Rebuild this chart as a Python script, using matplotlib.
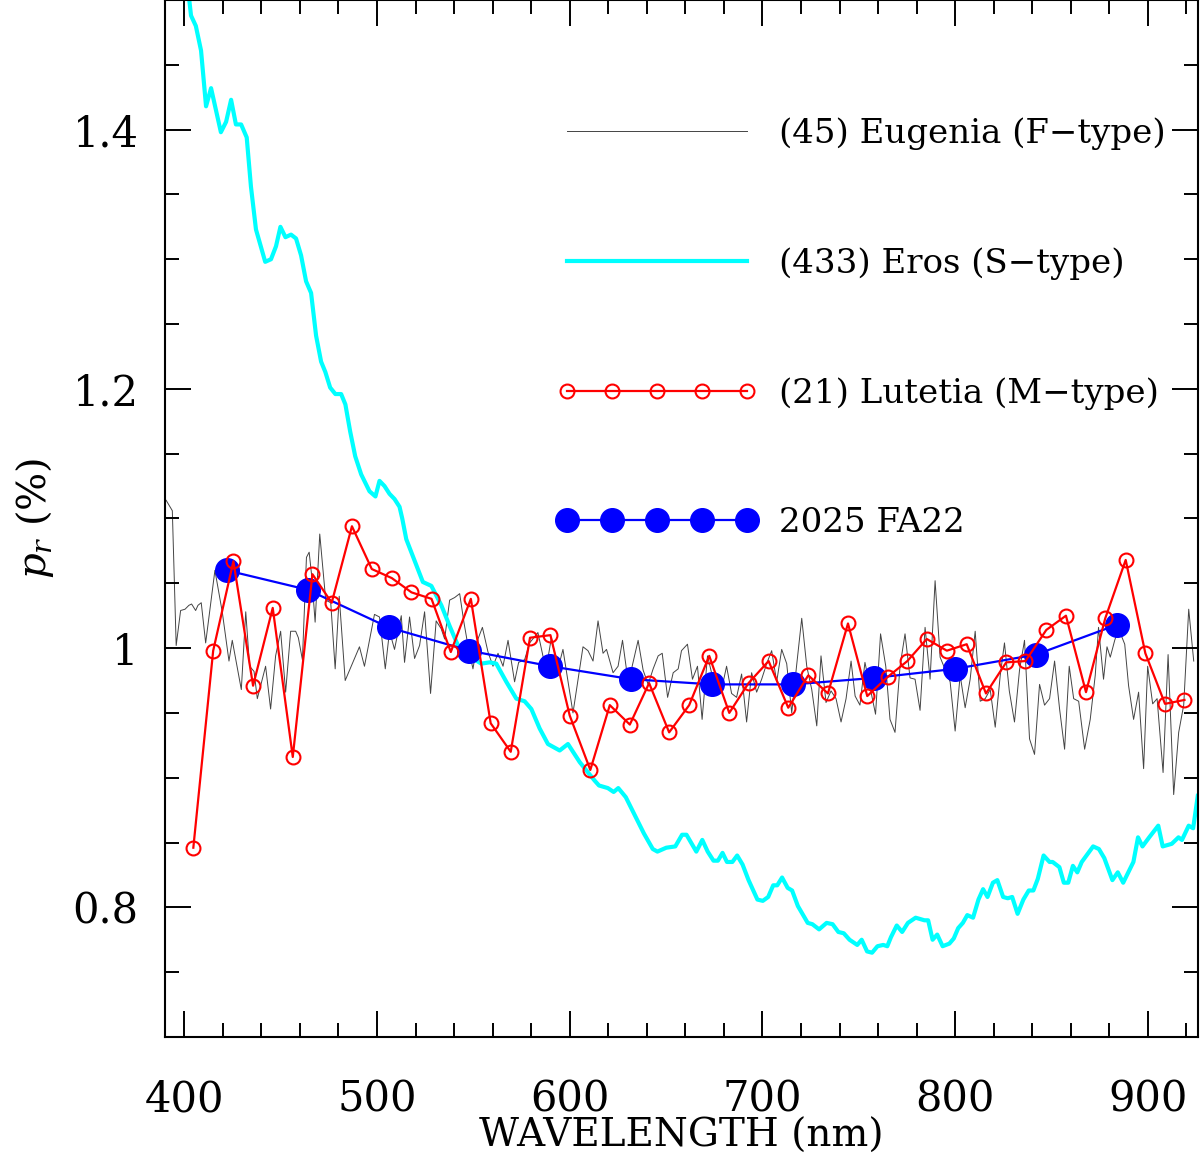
import numpy as np
import matplotlib
matplotlib.use("Agg")
import matplotlib.pyplot as plt
from matplotlib.ticker import MultipleLocator, FormatStrFormatter

plt.rcParams['font.family'] = ['DejaVu Serif']
plt.rcParams['mathtext.fontset'] = 'dejavuserif'

# --> (45) Eugenia, F-type
eug_wl = [390.6, 393.8, 395.8, 398.1, 400.4, 402.4, 403.8, 405.9, 407.1, 408.8,
          411.1, 415.9, 419.7, 423.2, 424.9, 429.6, 431.9, 433.9, 436.2, 437.9,
          442.2, 444.8, 447.4, 450.0, 452.6, 455.2, 457.8, 459.2, 461.3, 463.4,
          464.8, 466.1, 467.9, 470.3, 473.4, 476.0, 478.3, 480.4, 483.5, 490.9,
          493.5, 498.7, 501.3, 504.3, 506.5, 509.1, 512.6, 514.3, 516.9, 519.5,
          522.1, 524.7, 527.8, 530.7, 533.3, 535.1, 537.7, 540.3, 542.9, 545.1,
          547.2, 549.8, 552.4, 554.7, 557.6, 560.2, 562.8, 565.4, 568.0, 571.4,
          573.5, 576.6, 579.2, 583.5, 586.1, 587.9, 590.5, 593.9, 596.5, 601.7,
          606.9, 609.5, 612.1, 614.7, 617.3, 619.1, 622.5, 625.1, 627.4, 629.5,
          632.1, 635.5, 638.1, 640.7, 643.3, 645.9, 648.0, 650.8, 653.7, 656.3,
          658.0, 661.1, 663.7, 666.3, 668.7, 671.5, 676.2, 678.8, 681.4, 684.0,
          686.6, 689.2, 691.8, 694.4, 697.0, 699.6, 702.2, 704.8, 707.4, 710.0,
          712.6, 715.2, 717.7, 720.4, 723.0, 725.6, 728.2, 730.4, 733.0, 735.6,
          738.2, 740.8, 743.4, 746.0, 748.1, 750.6, 753.2, 756.2, 758.7, 761.3,
          764.0, 766.2, 768.8, 771.4, 774.0, 776.6, 779.2, 781.8, 784.4, 787.0,
          789.6, 792.2, 794.4, 797.4, 800.0, 802.6, 805.2, 807.8, 810.4, 813.0,
          815.6, 818.2, 820.8, 823.4, 825.6, 828.1, 830.8, 833.4, 836.0, 838.6,
          841.2, 843.8, 846.4, 849.0, 851.6, 854.2, 856.8, 859.2, 861.5, 864.1,
          867.2, 870.1, 872.7, 874.4, 877.0, 878.8, 880.5, 882.8, 884.8, 888.0,
          890.0, 892.6, 895.2, 897.8, 899.9, 902.5, 904.8, 907.9, 910.5, 913.4,
          916.0, 918.6, 921.2, 923.8]
eug_pr = [1.114, 1.106, 1.002, 1.029, 1.030, 1.033, 1.034, 1.029, 1.033, 1.035,
          1.004, 1.060, 1.028, 0.990, 1.006, 0.968, 1.028, 0.986, 0.982, 0.961,
          0.986, 0.953, 0.994, 1.013, 0.966, 1.013, 1.013, 1.008, 0.991, 1.070,
          1.074, 1.056, 1.020, 1.088, 1.037, 1.035, 0.984, 1.040, 0.975, 1.001,
          0.986, 1.026, 1.024, 0.984, 1.013, 0.999, 1.025, 0.989, 1.024, 0.992,
          1.002, 1.028, 0.965, 1.021, 1.015, 1.007, 1.037, 1.039, 1.042, 1.020,
          1.002, 0.984, 1.007, 1.016, 0.997, 0.986, 0.996, 0.986, 1.006, 0.974,
          0.989, 0.991, 1.004, 1.012, 0.994, 0.985, 1.008, 0.984, 0.999, 0.950,
          1.001, 0.998, 0.990, 1.021, 0.996, 0.999, 0.981, 0.986, 1.006, 0.983,
          0.984, 1.006, 0.983, 0.972, 0.984, 0.994, 0.996, 0.962, 0.981, 0.984,
          0.998, 1.003, 0.976, 0.986, 0.945, 0.994, 0.965, 0.968, 0.986, 0.965,
          0.962, 0.980, 0.943, 0.981, 0.966, 0.976, 0.988, 0.998, 0.974, 0.999,
          0.988, 0.950, 0.986, 1.023, 0.986, 0.968, 0.940, 0.994, 0.958, 0.967,
          0.961, 0.943, 0.961, 0.990, 0.963, 0.956, 0.989, 0.967, 0.949, 1.011,
          0.986, 0.945, 0.935, 0.986, 1.011, 0.977, 0.976, 0.952, 1.016, 0.976,
          1.052, 0.993, 0.985, 0.974, 0.936, 0.979, 0.954, 0.976, 1.013, 0.959,
          0.961, 0.968, 0.939, 0.979, 1.004, 0.967, 0.943, 0.983, 1.006, 0.930,
          0.918, 0.972, 0.956, 0.961, 0.990, 0.953, 0.922, 0.986, 0.961, 0.959,
          0.922, 0.945, 0.979, 1.016, 0.976, 1.001, 0.993, 1.006, 1.015, 1.003,
          0.971, 0.945, 0.966, 0.907, 0.986, 0.957, 0.961, 0.904, 0.995, 0.887,
          0.935, 0.956, 1.030, 0.990]

# --> (433) Eros, S-type
eros_wl = [400.0, 402.6, 403.5, 406.0, 408.7, 411.3, 413.9, 419.0, 421.7, 424.3,
           426.8, 429.5, 432.4, 434.6, 437.2, 442.0, 445.0, 447.6, 449.9, 452.5,
           455.4, 458.0, 460.6, 463.2, 465.8, 468.4, 471.0, 473.2, 475.7, 478.4,
           481.4, 483.6, 486.1, 488.7, 491.8, 496.1, 499.2, 501.3, 503.9, 506.5,
           509.1, 511.7, 513.1, 515.2, 523.8, 528.2, 533.4, 537.7, 542.9, 549.8,
           554.1, 558.4, 561.9, 567.1, 572.3, 576.6, 580.1, 584.4, 588.7, 594.8,
           599.1, 605.2, 612.8, 615.2, 619.8, 622.8, 625.2, 629.1, 633.8, 638.5,
           643.1, 645.5, 650.1, 654.8, 658.3, 660.6, 665.7, 668.8, 671.6, 674.6,
           676.9, 679.3, 681.6, 684.4, 686.9, 689.7, 692.8, 697.4, 700.2, 703.0,
           705.6, 707.7, 710.2, 713.1, 715.4, 718.4, 723.5, 725.9, 729.4, 733.3,
           736.4, 739.4, 742.2, 745.2, 749.2, 751.5, 754.3, 756.9, 759.7, 762.7,
           764.8, 766.7, 769.7, 772.5, 775.5, 779.5, 784.1, 786.0, 788.3, 790.7,
           793.5, 797.0, 799.3, 801.6, 804.0, 806.3, 809.3, 812.1, 814.5, 816.8,
           819.6, 821.9, 824.9, 827.3, 829.6, 832.4, 835.4, 838.2, 840.6, 842.9,
           845.9, 849.0, 850.6, 854.1, 856.4, 858.7, 861.1, 863.4, 865.7, 871.6,
           874.6, 877.4, 881.6, 884.4, 887.2, 892.5, 894.9, 897.2, 900.7, 905.4,
           907.7, 912.4, 915.9, 917.7, 921.2, 923.5, 925.9]
eros_pr = [1.530, 1.500, 1.488, 1.480, 1.461, 1.418, 1.432, 1.398, 1.406, 1.423,
           1.404, 1.404, 1.394, 1.356, 1.323, 1.298, 1.300, 1.310, 1.325, 1.317,
           1.319, 1.316, 1.303, 1.283, 1.274, 1.241, 1.221, 1.213, 1.201, 1.196,
           1.196, 1.188, 1.167, 1.148, 1.134, 1.121, 1.117, 1.129, 1.125, 1.119,
           1.115, 1.109, 1.100, 1.084, 1.051, 1.048, 1.033, 1.017, 0.999, 0.992,
           0.988, 0.989, 0.988, 0.974, 0.961, 0.959, 0.953, 0.938, 0.926, 0.921,
           0.926, 0.912, 0.898, 0.894, 0.892, 0.889, 0.892, 0.885, 0.871, 0.857,
           0.845, 0.843, 0.846, 0.847, 0.856, 0.856, 0.843, 0.852, 0.843, 0.836,
           0.836, 0.842, 0.835, 0.835, 0.840, 0.833, 0.821, 0.806, 0.805, 0.808,
           0.817, 0.817, 0.823, 0.815, 0.813, 0.801, 0.788, 0.787, 0.783, 0.788,
           0.787, 0.781, 0.780, 0.775, 0.771, 0.775, 0.766, 0.765, 0.770, 0.771,
           0.770, 0.777, 0.786, 0.781, 0.788, 0.792, 0.790, 0.790, 0.775, 0.779,
           0.770, 0.772, 0.776, 0.784, 0.788, 0.794, 0.792, 0.806, 0.814, 0.808,
           0.819, 0.821, 0.808, 0.807, 0.808, 0.795, 0.806, 0.813, 0.813, 0.822,
           0.840, 0.835, 0.835, 0.831, 0.819, 0.819, 0.832, 0.827, 0.835, 0.847,
           0.845, 0.838, 0.821, 0.827, 0.819, 0.835, 0.854, 0.847, 0.854, 0.863,
           0.847, 0.849, 0.854, 0.852, 0.863, 0.861, 0.886]

# --> (21) Lutetia, M-type
lut_wl = [404.7, 415.0, 425.5, 435.7, 445.9, 456.3, 466.5, 476.5, 487.0, 497.3,
          507.7, 517.9, 528.3, 538.3, 548.7, 559.0, 569.4, 579.4, 590.0, 600.0,
          610.7, 620.8, 631.2, 641.2, 651.6, 662.0, 672.4, 682.8, 692.8, 703.2,
          713.4, 723.8, 734.0, 744.4, 754.4, 765.2, 775.2, 785.3, 795.7, 806.0,
          816.0, 826.5, 836.5, 847.3, 857.5, 867.9, 877.9, 888.5, 898.7, 908.9,
          919.0]
lut_pr = [0.846, 0.998, 1.067, 0.971, 1.031, 0.916, 1.057, 1.035, 1.094, 1.061,
          1.054, 1.043, 1.038, 0.997, 1.038, 0.942, 0.920, 1.008, 1.010, 0.948,
          0.906, 0.956, 0.941, 0.973, 0.935, 0.956, 0.994, 0.950, 0.973, 0.990,
          0.954, 0.979, 0.965, 1.019, 0.963, 0.978, 0.990, 1.007, 0.998, 1.003,
          0.965, 0.989, 0.990, 1.014, 1.025, 0.966, 1.023, 1.068, 0.996, 0.957,
          0.960]

# --> 2025 FA22
fa22_wl = [422, 464, 506, 548, 590, 632, 674, 716, 758, 800, 842, 884]
fa22_pr = [1.060, 1.045, 1.016, 0.998, 0.986, 0.976, 0.972, 0.972, 0.977, 0.984, 0.995, 1.018]

fig = plt.figure(figsize=(12, 11.59), dpi=100)
ax = fig.add_axes([0.1375, 0.1053, 0.8608, 0.8947])

ax.plot(eug_wl, eug_pr, color='#444444', lw=0.7, label='(45) Eugenia (F\u2212type)', zorder=1)
ax.plot(eros_wl, eros_pr, color='#00ffff', lw=3.0, label='(433) Eros (S\u2212type)', zorder=2)
ax.plot(fa22_wl, fa22_pr, color='blue', lw=1.6, marker='o', ms=17, mec='blue', mfc='blue',
        label='2025 FA22', zorder=3)
ax.plot(lut_wl, lut_pr, color='red', lw=1.6, marker='o', ms=10, mfc='none', mec='red', mew=1.5,
        label='(21) Lutetia (M\u2212type)', zorder=4)

ax.set_xlim(390, 926)
ax.set_ylim(0.7, 1.5)
ax.xaxis.set_major_locator(MultipleLocator(100))
ax.xaxis.set_minor_locator(MultipleLocator(20))
ax.yaxis.set_major_locator(MultipleLocator(0.2))
ax.yaxis.set_minor_locator(MultipleLocator(0.05))
ax.yaxis.set_major_formatter(FormatStrFormatter('%g'))

ax.tick_params(which='both', direction='in', top=True, right=True, width=1.4, labelsize=30)
ax.tick_params(which='major', length=19)
ax.tick_params(which='minor', length=10)
ax.tick_params(axis='x', which='major', pad=30)
ax.tick_params(axis='y', which='major', pad=19)
for sp in ax.spines.values():
    sp.set_linewidth(1.5)

ax.set_xlabel('WAVELENGTH (nm)', fontsize=28, labelpad=-2)
ax.set_ylabel(r'$p_r$ (%)', fontsize=29, labelpad=12)

# --> legend in the order of the original figure
h, l = ax.get_legend_handles_labels()
order = [0, 1, 3, 2]
ax.legend([h[i] for i in order], [l[i] for i in order], loc='upper left',
          bbox_to_anchor=(0.379, 0.887), frameon=False, fontsize=24.5, numpoints=5,
          handlelength=5.9, handletextpad=0.65, labelspacing=2.86, borderpad=0,
          borderaxespad=0)

fig.savefig('out.png', dpi=100)
